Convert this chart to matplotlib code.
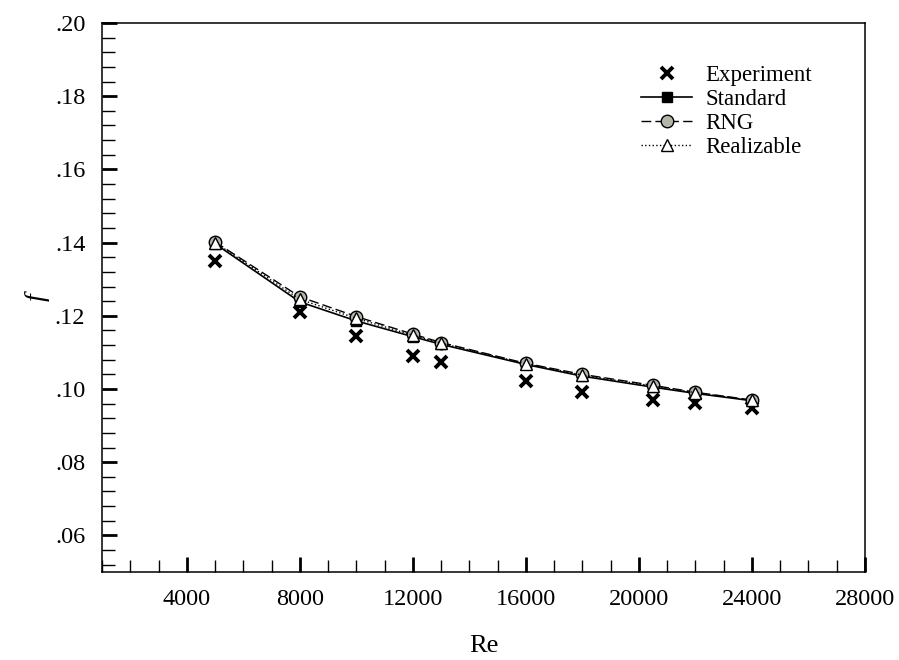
import matplotlib
matplotlib.use("Agg")
import matplotlib.pyplot as plt
from matplotlib.ticker import MultipleLocator, FuncFormatter

plt.rcParams['font.family'] = ['Liberation Serif', 'DejaVu Serif']

re_vals = [5000, 8000, 10000, 12000, 13000, 16000, 18000, 20500, 22000, 24000]
experiment = [0.135, 0.1211, 0.1146, 0.1091, 0.1075, 0.1022, 0.0993, 0.0971, 0.0961, 0.0947]
standard = [0.1397, 0.1238, 0.1186, 0.1143, 0.1122, 0.1067, 0.1035, 0.1005, 0.0988, 0.0968]
rng = [0.1402, 0.1252, 0.1198, 0.1150, 0.1127, 0.1070, 0.1040, 0.1010, 0.0991, 0.0970]
realizable = [0.1400, 0.1245, 0.1193, 0.1147, 0.1125, 0.1069, 0.1038, 0.1008, 0.0990, 0.0969]

fig = plt.figure(figsize=(8.99, 6.60), dpi=100)
ax = fig.add_axes([102/899, 1-572/660, (865-102)/899, (572-23)/660])

ax.plot(re_vals, experiment, linestyle='none', marker='x', color='black',
        markersize=8.5, markeredgewidth=2.8, label='Experiment', zorder=3)
ax.plot(re_vals, standard, '-', color='black', lw=1.2, marker='s', markersize=7,
        markerfacecolor='black', markeredgecolor='black', label='Standard', zorder=4)
ax.plot(re_vals, rng, '--', color='black', lw=1.0, dashes=(7, 3), marker='o', markersize=9,
        markerfacecolor='#b4b4a8', markeredgecolor='black', label='RNG', zorder=5)
ax.plot(re_vals, realizable, ':', color='black', lw=1.0, marker='^', markersize=8,
        markerfacecolor='white', markeredgecolor='black', label='Realizable', zorder=6)

ax.set_xlim(1000, 28000)
ax.set_ylim(0.05, 0.20)
ax.xaxis.set_major_locator(MultipleLocator(4000))
ax.xaxis.set_minor_locator(MultipleLocator(1000))
ax.yaxis.set_major_locator(MultipleLocator(0.02))
ax.yaxis.set_minor_locator(MultipleLocator(0.004))
ax.yaxis.set_major_formatter(FuncFormatter(lambda v, p: ('%.2f' % v).lstrip('0')))
ax.xaxis.set_major_formatter(FuncFormatter(lambda v, p: '%d' % v if v >= 4000 else ''))

ax.tick_params(which='both', direction='in', top=False, right=False, labelsize=17.5)
ax.tick_params(which='major', length=11, width=2)
ax.tick_params(which='minor', length=9, width=1)
ax.tick_params(axis='x', pad=12)
ax.tick_params(axis='y', pad=12)
for s in ax.spines.values():
    s.set_linewidth(1.1)

ax.set_xlabel('Re', fontsize=19, labelpad=18)
ax.set_ylabel('f', fontsize=20, style='italic', labelpad=4)

leg = ax.legend(loc='upper left', bbox_to_anchor=(0.695, 0.94), frameon=False,
                fontsize=16.5, handlelength=2.2, handletextpad=0.6, labelspacing=0.12,
                borderaxespad=0)

fig.savefig('out.png', dpi=100)
